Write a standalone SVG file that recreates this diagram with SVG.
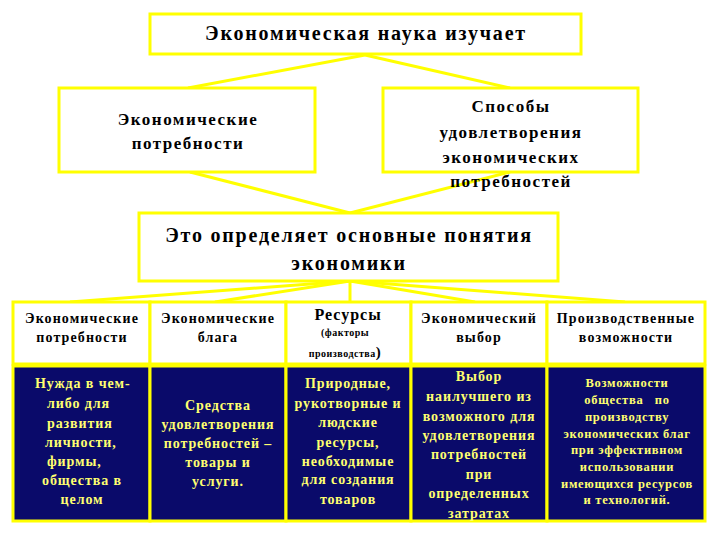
<svg xmlns="http://www.w3.org/2000/svg" width="720" height="540" viewBox="0 0 720 540" font-family="'Liberation Serif','Times New Roman',serif">
<style>
.box{fill:#ffffff;stroke:#ffff00;stroke-width:3}
.cell{fill:#0a0a6a;stroke:#ffff00;stroke-width:3}
.conn{stroke:#ffff00;stroke-width:3;fill:none}
text{font-family:"Liberation Serif","Times New Roman",serif;font-weight:bold;text-anchor:middle}
.big{font-size:20px;fill:#000;letter-spacing:1.8px}
.mid{font-size:17px;fill:#000;letter-spacing:1.5px}
.hdr{font-size:14px;fill:#000;letter-spacing:1.1px}
.yl{font-size:14px;fill:#ffff70;letter-spacing:0.9px}
.ys{font-size:12.5px;fill:#ffff70;letter-spacing:0.7px}
.st{text-anchor:start}
</style>
<rect width="720" height="540" fill="#ffffff"/>
<g id="connectors">
<line class="conn" x1="365" y1="55" x2="188" y2="88"/>
<line class="conn" x1="365" y1="55" x2="510" y2="88"/>
<line class="conn" x1="190" y1="172" x2="350" y2="213"/>
<line class="conn" x1="510" y1="172" x2="350" y2="213"/>
<line class="conn" x1="350" y1="281" x2="70" y2="302"/>
<line class="conn" x1="350" y1="281" x2="215" y2="302"/>
<line class="conn" x1="350" y1="281" x2="350" y2="302"/>
<line class="conn" x1="350" y1="281" x2="475" y2="302"/>
<line class="conn" x1="350" y1="281" x2="625" y2="302"/>
</g>
<g id="n-top">
<rect class="box" x="150" y="14" width="431" height="40"/>
<text class="big" x="366" y="40">Экономическая наука изучает</text>
</g>
<g id="n-needs">
<rect class="box" x="59" y="88" width="256" height="84"/>
<text class="mid" x="188" y="125">Экономические</text>
<text class="mid" x="188" y="149">потребности</text>
</g>
<g id="n-ways">
<rect class="box" x="383" y="88" width="255" height="84"/>
<text class="mid" x="511" y="112">Способы</text>
<text class="mid" x="511" y="138">удовлетворения</text>
<text class="mid" x="511" y="163">экономических</text>
<text class="mid" x="511" y="187">потребностей</text>
</g>
<g id="n-defines">
<rect class="box" x="139" y="213" width="419" height="68"/>
<text class="big" x="349" y="242">Это определяет основные понятия</text>
<text class="big" x="349" y="270">экономики</text>
</g>
<g id="h1">
<rect class="box" x="13" y="302" width="137" height="62"/>
<text class="hdr" x="82" y="323">Экономические</text>
<text class="hdr" x="82" y="342">потребности</text>
</g>
<g id="h2">
<rect class="box" x="150" y="302" width="136" height="62"/>
<text class="hdr" x="218" y="323">Экономические</text>
<text class="hdr" x="218" y="342">блага</text>
</g>
<g id="h3">
<rect class="box" x="286" y="302" width="125" height="62"/>
<text x="348" y="320" style="font-size:16px;letter-spacing:1px">Ресурсы</text>
<text x="345" y="336" style="font-size:10px;letter-spacing:0.5px">(факторы</text>
<text x="345" y="357" style="font-size:10px;letter-spacing:0.5px">производства<tspan style="font-size:15px">)</tspan></text>
</g>
<g id="h4">
<rect class="box" x="411" y="302" width="136" height="62"/>
<text class="hdr" x="479" y="323">Экономический</text>
<text class="hdr" x="479" y="342">выбор</text>
</g>
<g id="h5">
<rect class="box" x="547" y="302" width="158" height="62"/>
<text class="hdr" x="626" y="323">Производственные</text>
<text class="hdr" x="626" y="342">возможности</text>
</g>
<g id="c1">
<rect class="cell" x="13" y="366" width="137" height="155"/>
<text class="yl st" x="35" y="388">Нужда в чем-</text>
<text class="yl st" x="47" y="408">либо для</text>
<text class="yl st" x="47" y="428">развития</text>
<text class="yl st" x="45" y="447">личности,</text>
<text class="yl st" x="47" y="466">фирмы,</text>
<text class="yl st" x="42" y="485">общества в</text>
<text class="yl" x="82" y="504">целом</text>
</g>
<g id="c2">
<rect class="cell" x="150" y="366" width="136" height="155"/>
<text class="yl" x="218" y="410">Средства</text>
<text class="yl" x="218" y="429">удовлетворения</text>
<text class="yl" x="218" y="448">потребностей –</text>
<text class="yl" x="218" y="467">товары и</text>
<text class="yl" x="218" y="486">услуги.</text>
</g>
<g id="c3">
<rect class="cell" x="286" y="366" width="125" height="155"/>
<text class="yl" x="348" y="388">Природные,</text>
<text class="yl" x="348" y="408">рукотворные и</text>
<text class="yl" x="348" y="427">людские</text>
<text class="yl" x="348" y="447">ресурсы,</text>
<text class="yl" x="348" y="466">необходимые</text>
<text class="yl" x="348" y="484">для создания</text>
<text class="yl" x="348" y="504">товаров</text>
</g>
<g id="c4">
<rect class="cell" x="411" y="366" width="136" height="155"/>
<text class="yl" x="479" y="381">Выбор</text>
<text class="yl" x="479" y="401">наилучшего из</text>
<text class="yl" x="479" y="421">возможного для</text>
<text class="yl" x="479" y="440">удовлетворения</text>
<text class="yl" x="479" y="459">потребностей</text>
<text class="yl" x="479" y="479">при</text>
<text class="yl" x="479" y="498">определенных</text>
<text class="yl" x="479" y="518">затратах</text>
</g>
<g id="c5">
<rect class="cell" x="547" y="366" width="158" height="155"/>
<text class="ys" x="627" y="387">Возможности</text>
<text class="ys" x="627" y="404" xml:space="preserve">общества   по</text>
<text class="ys" x="627" y="421">производству</text>
<text class="ys" x="627" y="438">экономических благ</text>
<text class="ys" x="627" y="454">при эффективном</text>
<text class="ys" x="627" y="471">использовании</text>
<text class="ys" x="627" y="488">имеющихся ресурсов</text>
<text class="ys" x="627" y="504">и технологий.</text>
</g>
</svg>
